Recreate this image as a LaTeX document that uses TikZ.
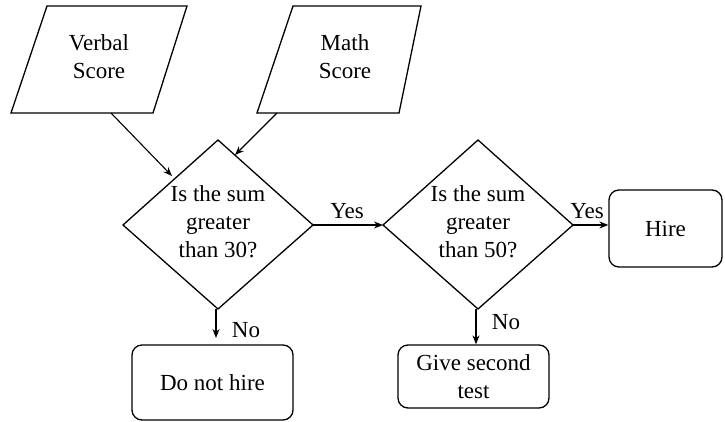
\documentclass[tikz,border=0pt]{standalone}
\usepackage{fontspec}
\setmainfont{Liberation Serif}
\usetikzlibrary{arrows.meta}
\begin{document}
\begin{tikzpicture}[x=1pt,y=-1pt,
  shapeline/.style={line width=1.3pt, line join=miter},
  conn/.style={line width=1.1pt, -{Stealth[length=9pt,width=7pt]}},
  txt/.style={font=\fontsize{23}{28}\selectfont, align=center, inner sep=0pt},
  lbl/.style={font=\fontsize{23}{28}\selectfont, inner sep=0pt},
  endbox/.style={draw, line width=1.3pt, rounded corners=10pt, align=center,
    font=\fontsize{23}{28}\selectfont, inner sep=0pt}]
\useasboundingbox (0,0) rectangle (725,422);
% input parallelograms
\draw[shapeline] (47,6) -- (187,6) -- (153,113) -- (11,113) -- cycle;
\node[txt] (verbal) at (99,57) {Verbal\\Score};
\coordinate (vbout) at (111,113);
\draw[shapeline] (293,6) -- (421,6) -- (399,113) -- (257,113) -- cycle;
\node[txt] (math) at (345,57) {Math\\Score};
\coordinate (mtout) at (277,113);
% decision diamonds
\draw[shapeline] (218,140) -- (313,225) -- (218,309) -- (123,225) -- cycle;
\node[txt] (d1) at (218,222) {Is the sum\\greater\\than 30?};
\coordinate (d1l) at (172,176);
\coordinate (d1t) at (235,155);
\coordinate (d1r) at (313,225);
\coordinate (d1b) at (216,309);
\draw[shapeline] (478,140) -- (573,225) -- (478,309) -- (383,225) -- cycle;
\node[txt] (d2) at (478,222) {Is the sum\\greater\\than 50?};
\coordinate (d2l) at (383,225);
\coordinate (d2r) at (573,225);
\coordinate (d2b) at (476,309);
% terminal boxes
\node[endbox, minimum width=113pt, minimum height=77pt] (hire) at (665.5,228.5) {Hire};
\node[endbox, minimum width=161pt, minimum height=75pt] (nohire) at (212.5,382.5) {Do not hire};
\node[endbox, minimum width=151pt, minimum height=63pt] (second) at (473.5,376.5) {Give second\\test};
% connectors
\draw[conn] (vbout) -- (d1l);
\draw[conn] (mtout) -- (d1t);
\draw[conn] (d1r) -- (d2l);
\draw[conn] (d2r) -- (hire.west |- d2r);
\draw[conn] (d1b) -- (216,338);
\draw[conn] (d2b) -- (second.north -| d2b);
% labels
\node[lbl] (yes1) at (347,211) {Yes};
\node[lbl] (yes2) at (587,211) {Yes};
\node[lbl] (no1) at (246,330) {No};
\node[lbl] (no2) at (506,322) {No};
\end{tikzpicture}
\end{document}
